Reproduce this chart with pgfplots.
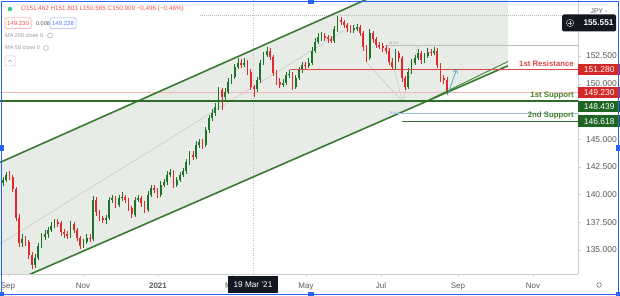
\documentclass[border=0pt]{standalone}
\usepackage{fontspec}
\setmainfont{Liberation Sans}
\usepackage{pgfplots}
\pgfplotsset{compat=1.18}
\usepackage{pgfplotstable}
\usetikzlibrary{arrows.meta}

\definecolor{chshade}{RGB}{231,237,230}
\definecolor{chgreen}{RGB}{56,122,48}
\definecolor{supgreen}{RGB}{46,108,42}
\definecolor{sup2green}{RGB}{50,110,45}
\definecolor{boxgreen}{RGB}{30,100,35}
\definecolor{labgreen}{RGB}{72,130,40}
\definecolor{myred}{RGB}{222,70,70}
\definecolor{boxred}{RGB}{210,40,40}
\definecolor{cgreen}{RGB}{30,115,40}
\definecolor{cred}{RGB}{226,40,44}
\definecolor{arrteal}{RGB}{80,180,200}
\definecolor{frameblue}{RGB}{41,98,255}
\definecolor{fibblue}{RGB}{160,195,240}
\definecolor{axgray}{RGB}{205,205,205}
\definecolor{tickgray}{RGB}{90,90,90}
\definecolor{pinkline}{RGB}{242,182,182}
\definecolor{fibgray}{RGB}{190,190,190}
\definecolor{tvblack}{RGB}{19,23,34}
\definecolor{legred}{RGB}{239,83,80}

% candles: open high low close
\pgfplotstableread{
o h l c
141.0 141.6 140.8 141.3
141.3 142.0 141.1 141.8
141.8 142.1 141.3 141.6
141.6 141.8 140.2 140.5
140.5 140.7 137.6 137.9
137.9 138.2 135.3 135.6
135.6 136.4 135.3 136.0
136.0 136.3 135.4 135.7
135.7 135.9 134.2 134.5
134.5 134.8 133.3 133.6
133.6 134.6 133.4 134.3
134.3 135.6 134.1 135.4
135.4 136.5 135.2 136.2
136.2 136.8 135.9 136.4
136.4 137.1 136.1 136.8
136.8 137.5 136.6 137.2
137.2 137.8 137.0 137.5
137.5 137.8 137.1 137.4
137.4 137.6 136.3 136.6
136.6 136.9 136.1 136.4
136.4 136.7 136.0 136.3
136.3 137.6 136.1 137.3
137.3 137.5 136.5 136.8
136.8 137.0 135.8 136.1
136.1 136.3 135.1 135.4
135.4 136.0 135.2 135.7
135.7 136.4 135.5 136.1
136.1 136.4 135.7 136.0
136.0 139.9 135.8 139.5
139.5 139.8 138.1 138.4
138.4 138.6 137.6 137.9
137.9 138.1 137.4 137.7
137.7 138.2 137.3 137.9
137.9 139.8 137.7 139.5
139.5 140.0 139.2 139.7
139.7 139.9 138.8 139.1
139.1 140.0 138.9 139.7
139.7 140.2 139.4 139.8
139.8 140.0 139.2 139.5
139.5 139.7 138.5 138.8
138.8 139.0 137.9 138.2
138.2 139.8 138.0 139.5
139.5 140.0 139.3 139.7
139.7 139.9 138.9 139.2
139.2 139.4 138.3 138.6
138.6 140.3 138.4 140.0
140.0 140.9 139.8 140.6
140.6 140.9 140.1 140.4
140.4 140.6 139.7 140.0
140.0 141.2 139.8 140.9
140.9 141.4 140.7 141.1
141.1 142.1 140.9 141.8
141.8 142.3 141.6 142.0
142.0 142.2 140.6 140.9
140.9 141.6 140.7 141.3
141.3 142.0 141.1 141.8
141.8 142.4 141.6 142.1
142.1 143.2 141.9 142.9
142.9 143.9 142.7 143.6
143.6 143.9 143.1 143.4
143.4 144.8 143.2 144.5
144.5 145.0 144.2 144.7
144.7 145.0 144.1 144.5
144.5 146.1 144.3 145.8
145.8 147.2 145.6 146.9
146.9 147.7 146.6 147.4
147.4 148.3 147.1 147.9
147.9 149.7 147.6 149.4
149.4 149.6 147.6 148.8
148.8 149.6 148.5 149.3
149.3 150.5 149.1 150.2
150.2 150.9 150.0 150.6
150.6 151.8 150.4 151.5
151.5 152.3 151.3 151.9
151.9 152.2 151.4 151.7
151.7 152.3 151.5 151.9
151.9 152.1 150.8 151.1
151.1 151.3 149.4 149.7
149.7 149.9 148.8 149.5
149.5 150.6 149.3 150.3
150.3 152.1 150.1 151.9
151.9 152.9 151.7 152.6
152.6 153.3 152.4 153.0
153.0 153.2 152.1 152.4
152.4 152.6 150.7 151.0
151.0 151.2 149.9 150.2
150.2 150.5 149.6 149.9
149.9 150.4 149.7 150.1
150.1 151.1 149.9 150.8
150.8 151.2 150.5 150.9
150.9 151.1 149.4 149.7
149.7 150.8 149.5 150.5
150.5 151.5 150.3 151.2
151.2 152.0 151.0 151.7
151.7 152.0 151.3 151.6
151.6 152.3 151.4 151.9
151.9 153.3 151.7 153.0
153.0 154.1 152.8 153.8
153.8 154.6 153.6 154.2
154.2 154.7 153.9 154.3
154.3 154.6 153.9 154.2
154.2 154.4 153.7 154.0
154.0 154.3 153.7 153.9
153.9 155.2 153.7 154.9
154.9 156.1 154.7 155.8
155.8 156.0 155.3 155.6
155.6 155.8 155.0 155.3
155.3 155.5 154.7 155.0
155.0 155.3 154.6 154.9
154.9 155.3 154.6 155.0
155.0 155.4 154.8 155.1
155.1 155.3 154.3 154.6
154.6 154.8 153.0 153.3
153.3 153.5 152.0 152.3
152.3 154.9 152.1 154.6
154.6 154.8 153.7 154.0
154.0 154.2 153.2 153.5
153.5 153.8 153.1 153.4
153.4 153.7 152.9 153.2
153.2 153.5 152.7 153.0
153.0 153.2 151.7 152.0
152.0 152.3 151.2 151.5
151.5 153.1 151.3 152.8
152.8 153.0 152.0 152.3
152.3 152.5 150.2 150.5
150.5 150.7 149.4 149.7
149.7 151.4 149.5 151.1
151.1 152.2 150.9 151.9
151.9 152.6 151.7 152.3
152.3 153.1 152.1 152.8
152.8 153.0 151.8 152.1
152.1 152.8 151.9 152.5
152.5 153.2 152.3 152.9
152.9 153.1 152.5 152.8
152.8 153.3 152.6 153.0
153.0 153.2 151.4 151.7
151.7 151.9 150.2 150.5
150.5 150.8 150.0 150.3
150.3 150.6 149.0 149.2
}\ohlc

\begin{document}
\begin{tikzpicture}
\path[use as bounding box] (0,0) rectangle (620pt,296pt);
\fill[white] (0,0) rectangle (620pt,296pt);
\clip (0,0) rectangle (620pt,296pt);
\begin{axis}[
  at={(0pt,22pt)}, anchor=south west,
  scale only axis, width=578pt, height=274pt,
  xmin=-0.93, xmax=178.74, ymin=132.83, ymax=157.56,
  axis x line*=bottom, axis y line*=right,
  axis line style={draw=axgray, line width=0.6pt, -},
  xtick={1.55,24.87,48.18,71.18,94.19,117.5,141.4,164.75},
  xticklabels={Sep,Nov,\textbf{2021},Mar,May,Jul,Sep,Nov},
  ytick={135,137.5,140,142.5,145,150,152.5},
  scaled y ticks=false,
  /pgf/number format/assume math mode=true,
  yticklabel style={/pgf/number format/.cd, fixed, fixed zerofill, precision=3, 1000 sep={}, /tikz/.cd,
     font=\fontsize{8.5}{9}\selectfont, text=tickgray, xshift=2pt},
  xticklabel style={font=\fontsize{8}{9}\selectfont, text=tickgray, yshift=-2.5pt},
  tick style={draw=axgray, line width=0.5pt}, major tick length=2.5pt, tick align=outside,
  clip=true,
]
% channel shading
\addplot[fill=chshade, draw=none, forget plot] coordinates {(-0.93,142.90) (156.98,163.3) (156.98,151.62) (-0.93,131.62)} -- cycle;
% crosshair
\addplot[draw=fibgray, line width=0.4pt, dash pattern=on 1pt off 1.5pt, forget plot] coordinates {(77.7,132.83) (77.7,157.56)};
% faint diagonal and fib lines
\addplot[draw=fibgray, line width=0.4pt, forget plot] coordinates {(-0.93,135.54) (106.3,154.86)};
\addplot[draw=fibgray, line width=0.4pt, dash pattern=on 1pt off 1pt, forget plot] coordinates {(61.2,156.21) (178.74,156.21)};
\addplot[draw=fibgray, line width=0.4pt, forget plot] coordinates {(119.7,153.50) (178.74,153.50)};
\addplot[draw=fibgray, line width=0.4pt, forget plot] coordinates {(113.1,151.88) (124.3,148.36) (129.0,153.50)};
\addplot[draw=fibgray, line width=0.4pt, forget plot] coordinates {(119.5,153.50) (124.3,148.36)};
% current price line
\addplot[draw=pinkline, line width=0.6pt, forget plot] coordinates {(-0.93,149.23) (178.74,149.23)};
% wicks
\addplot[draw=none, forget plot, error bars/.cd, y dir=both, y explicit, error mark=none,
  error bar style={line width=0.5pt, draw=cred, solid}]
  table[x expr=\coordindex, y expr={(\thisrow{h}+\thisrow{l})/2},
        y error expr={ifthenelse(\thisrow{c}<\thisrow{o},(\thisrow{h}-\thisrow{l})/2,0)}] {\ohlc};
\addplot[draw=none, forget plot, error bars/.cd, y dir=both, y explicit, error mark=none,
  error bar style={line width=0.5pt, draw=cgreen, solid}]
  table[x expr=\coordindex, y expr={(\thisrow{h}+\thisrow{l})/2},
        y error expr={ifthenelse(\thisrow{c}>\thisrow{o},(\thisrow{h}-\thisrow{l})/2,0)}] {\ohlc};
% bodies
\addplot[draw=none, forget plot, error bars/.cd, y dir=both, y explicit, error mark=none,
  error bar style={line width=1.8pt, draw=cred, solid}]
  table[x expr=\coordindex, y expr={(\thisrow{o}+\thisrow{c})/2},
        y error expr={ifthenelse(\thisrow{c}<\thisrow{o},(\thisrow{o}-\thisrow{c})/2,0)}] {\ohlc};
\addplot[draw=none, forget plot, error bars/.cd, y dir=both, y explicit, error mark=none,
  error bar style={line width=1.8pt, draw=cgreen, solid}]
  table[x expr=\coordindex, y expr={(\thisrow{o}+\thisrow{c})/2},
        y error expr={ifthenelse(\thisrow{c}>\thisrow{o},(\thisrow{c}-\thisrow{o})/2,0)}] {\ohlc};
% channel lines
\addplot[draw=chgreen, line width=1.6pt, forget plot] coordinates {(-0.93,142.90) (156.98,163.3)};
\addplot[draw=chgreen, line width=1.6pt, forget plot] coordinates {(-0.93,131.62) (156.98,151.62)};
\addplot[draw=chgreen, line width=0.8pt, forget plot] coordinates {(129.6,148.15) (156.98,152.01)};
% first support
\addplot[draw=supgreen, line width=1.5pt, forget plot] coordinates {(-0.93,148.439) (178.74,148.439)};
% resistance, second support, 78.6 line
\addplot[color=myred, line width=1.2pt, solid, forget plot] coordinates {(89.2,151.28) (178.74,151.28)};
\addplot[color=sup2green, line width=1.2pt, solid, forget plot] coordinates {(124.0,146.618) (178.74,146.618)};
\addplot[color=fibblue, line width=0.8pt, solid, forget plot] coordinates {(122.0,147.36) (178.74,147.36)};
% arrow
\addplot[draw=arrteal, line width=0.8pt, -{Straight Barb[length=3pt,width=5pt]}, forget plot] coordinates {(138.2,149.0) (141.0,151.3)};
\coordinate (pR) at (axis cs:178.74,151.28);
\coordinate (pC) at (axis cs:178.74,149.23);
\coordinate (pS1) at (axis cs:178.74,148.439);
\coordinate (pS2) at (axis cs:178.74,146.618);
\coordinate (pF1) at (axis cs:119.7,153.50);
\coordinate (pF2) at (axis cs:119.7,147.36);
\end{axis}

% labels on lines
\node[anchor=base east, text=myred, font=\bfseries\fontsize{7.8}{8}\selectfont, inner sep=0pt] at ([xshift=-4pt,yshift=3.5pt]pR) {1st Resistance};
\node[anchor=base east, text=labgreen, font=\bfseries\fontsize{7.8}{8}\selectfont, inner sep=0pt] at ([xshift=-4pt,yshift=4pt]pS1) {1st Support};
\node[anchor=base east, text=labgreen, font=\bfseries\fontsize{7.8}{8}\selectfont, inner sep=0pt] at ([xshift=-4pt,yshift=3.5pt]pS2) {2nd Support};
\node[anchor=south west, text=fibgray!80!black, font=\fontsize{3.5}{4}\selectfont, inner sep=0.5pt] at (pF1) {61.8\%};
\node[anchor=west, text=frameblue!60, font=\fontsize{3.5}{4}\selectfont, inner sep=0.5pt] at (pF2) {78.6\%};

% price boxes
\node[fill=boxred, text=white, font=\fontsize{8.5}{9}\selectfont, anchor=west, minimum width=42pt, minimum height=11.5pt, inner sep=0pt] at (pR) {151.280};
\node[fill=boxred, text=white, font=\fontsize{8.5}{9}\selectfont, anchor=west, minimum width=42pt, minimum height=11.5pt, inner sep=0pt] at (pC) {149.230};
\node[fill=boxgreen, text=white, font=\fontsize{8.5}{9}\selectfont, anchor=west, minimum width=42pt, minimum height=11.5pt, inner sep=0pt] at ([yshift=-5.5pt]pS1) {148.439};
\node[fill=boxgreen, text=white, font=\fontsize{8.5}{9}\selectfont, anchor=west, minimum width=42pt, minimum height=11.5pt, inner sep=0pt] at (pS2) {146.618};

\begin{scope}[x=1pt,y=-1pt,yshift=296pt]
% top right price box
\fill[tvblack, rounded corners=1.5pt] (562,14.5) rectangle (616,31.5);
\draw[white!75!black, line width=0.5pt] (570,23) circle (3.6);
\draw[white!75!black, line width=0.5pt] (567.8,23) -- (572.2,23) (570,20.8) -- (570,25.2);
\node[text=white, font=\bfseries\fontsize{8.3}{9}\selectfont, inner sep=0pt] at (598.5,23) {155.551};
\node[text=tickgray, font=\fontsize{6.8}{7}\selectfont, inner sep=0pt] at (599,11) {JPY -};
% date box
\fill[tvblack] (228,276.5) rectangle (278,293);
\node[text=white, font=\fontsize{8.2}{9}\selectfont, inner sep=0pt] at (253,285) {19 Mar '21};
% gear icon
\draw[tickgray, line width=0.5pt] (599,285) circle (2.3);
% legend top left
\fill[arrteal!70!green] (10,9) circle (2.2);
\node[anchor=west, text=legred, font=\fontsize{6.3}{7}\selectfont, inner sep=0pt] at (21,9.3) {O151.462 H151.803 L150.565 C150.909 −0.496 (−0.46\%)};
\draw[legred!60, line width=0.5pt, rounded corners=1pt] (5,18) rectangle (31,28.5);
\node[text=legred, font=\fontsize{6}{7}\selectfont, inner sep=0pt] at (18,23.3) {149.230};
\node[text=tickgray, font=\fontsize{5.5}{6}\selectfont, inner sep=0pt] at (43,23.3) {0.008};
\draw[frameblue!50, line width=0.5pt, rounded corners=1pt] (50,18) rectangle (76,28.5);
\node[text=frameblue!80, font=\fontsize{6}{7}\selectfont, inner sep=0pt] at (63,23.3) {149.238};
\node[anchor=west, text=gray!80, font=\fontsize{5.5}{6}\selectfont, inner sep=0pt] at (5,35.5) {MA 200 close 0};
\draw[gray!70, line width=0.5pt] (50,35.5) circle (2.4);
\node[anchor=west, text=gray!80, font=\fontsize{5.5}{6}\selectfont, inner sep=0pt] at (5,48) {MA 50 close 0};
\draw[gray!70, line width=0.5pt] (46,48) circle (2.4);
\draw[gray!40, line width=0.5pt, rounded corners=1pt] (5,56) rectangle (15,66);
\draw[gray!80, line width=0.5pt] (8.5,62) -- (10,60) -- (11.5,62);
% selection frame
\draw[frameblue, line width=1.2pt] (1.2,1.2) rectangle (618.8,294.8);
\fill[frameblue] (0,145) rectangle (4,151);
\fill[frameblue] (616,145) rectangle (620,151);
\fill[frameblue] (308,0) rectangle (314,4);
\fill[frameblue] (308,292) rectangle (314,296);
\fill[frameblue] (0,292) rectangle (4,296);
\fill[frameblue] (616,292) rectangle (620,296);
\end{scope}
\end{tikzpicture}
\end{document}
